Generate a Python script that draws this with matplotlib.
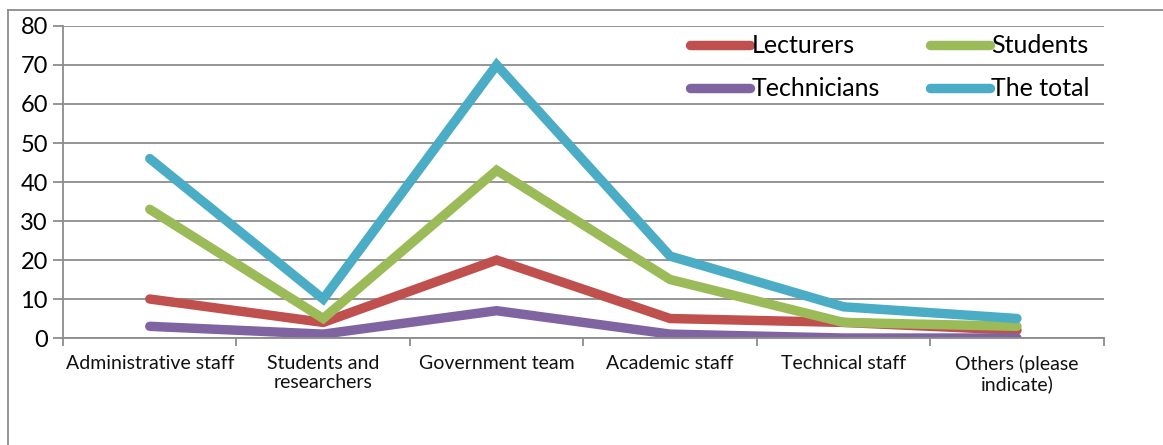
import numpy as np
import matplotlib
matplotlib.use("Agg")
import matplotlib.pyplot as plt
from matplotlib.lines import Line2D

# data
categories = ["Administrative staff", "Students and\nresearchers", "Government team",
              "Academic staff", "Technical staff", "Others (please\nindicate)"]
lecturers = [10, 4, 20, 5, 4, 2]
students = [33, 5, 43, 15, 4, 3]
technicians = [3, 1, 7, 1, 0, 0]
total = [46, 10, 70, 21, 8, 5]

series = [("Lecturers", lecturers, "#C0504D"),
          ("Students", students, "#9BBB59"),
          ("Technicians", technicians, "#8064A2"),
          ("The total", total, "#4BACC6")]

plt.rcParams['font.family'] = ['Lato', 'DejaVu Sans']

fig = plt.figure(figsize=(11.63, 4.45), dpi=100)
ax = fig.add_axes([0.0542, 0.2404, 0.8948, 0.7012])

x = np.arange(len(categories))
lines = {}
for name, vals, col in series:
    lines[name], = ax.plot(x, vals, color=col, lw=6.8, label=name, solid_capstyle="round",
                           solid_joinstyle="miter")

ax.set_xlim(-0.5, len(categories) - 0.5)
ax.set_ylim(0, 80)
ax.set_yticks(range(0, 81, 10))
ax.yaxis.grid(True, color="#8c8c8c", lw=1.3)
ax.set_axisbelow(True)

ax.set_xticks(x)
ax.set_xticklabels(categories, fontsize=14, color="#111111")
ax.tick_params(axis="x", length=0, pad=12)
ax.set_xticks(np.arange(-0.5, len(categories), 1.0), minor=True)
ax.tick_params(axis="x", which="minor", length=6, color="#8c8c8c", width=1.3)
ax.tick_params(axis="y", length=7, color="#8c8c8c", width=1.3, labelsize=17, pad=4)

for s in ["top", "right"]:
    ax.spines[s].set_visible(False)
for s in ["left", "bottom"]:
    ax.spines[s].set_color("#8c8c8c")
    ax.spines[s].set_linewidth(1.3)

# legend fills column-wise, so order gives rows: Lecturers/Students, Technicians/The total
order = ["Lecturers", "Technicians", "Students", "The total"]
leg = ax.legend([lines[n] for n in order], order, ncol=2, loc="upper right",
                bbox_to_anchor=(1.008, 1.045), frameon=False,
                fontsize=18, handlelength=2.4, handletextpad=0.05, columnspacing=2.0,
                labelspacing=0.8)

# outer chart border (cropped)
fig.add_artist(Line2D([0.007, 1.0], [0.978, 0.978], color="#8c8c8c", lw=1.3,
                      transform=fig.transFigure))
fig.add_artist(Line2D([0.007, 0.007], [0.0, 0.978], color="#8c8c8c", lw=1.3,
                      transform=fig.transFigure))

fig.savefig("out.png", dpi=100)
